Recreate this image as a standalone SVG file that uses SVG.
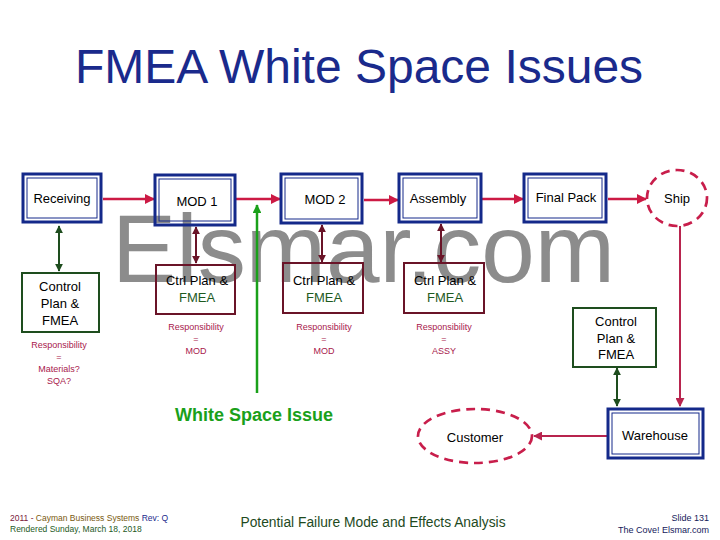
<svg xmlns="http://www.w3.org/2000/svg" width="720" height="540" viewBox="0 0 720 540">
<style>
text{font-family:"Liberation Sans",Arial,sans-serif}
.lbl{font-size:13px;fill:#000;text-anchor:middle}
.fm{fill:#1e5a1e}
.resp{font-size:9px;fill:#a8204c;text-anchor:middle}
.bo{fill:none;stroke:#14298a;stroke-width:3}
.bi{fill:none;stroke:#14298a;stroke-width:1}
.ctrl{fill:none;stroke:#6a1428;stroke-width:2}
.cp{fill:none;stroke:#1e4d1e;stroke-width:2}
.flow{stroke:#cc1a44;stroke-width:2.5;fill:none}
.flow2{stroke:#b8244e;stroke-width:2;fill:none}
.dm{stroke:#6a1428;stroke-width:2;fill:none}
.dg{stroke:#1e4d1e;stroke-width:2;fill:none}
.dash{fill:none;stroke:#c81e4b;stroke-width:2.7;stroke-dasharray:9 6}
</style>
<defs>
<marker id="ar" viewBox="0 0 10 10" refX="9" refY="5" markerWidth="4" markerHeight="4" orient="auto"><path d="M0,0L10,5L0,10z" fill="#cc1a44"/></marker>
<marker id="ar2" viewBox="0 0 10 10" refX="9" refY="5" markerWidth="4.5" markerHeight="4.5" orient="auto"><path d="M0,0L10,5L0,10z" fill="#b8244e"/></marker>
<marker id="am" viewBox="0 0 10 10" refX="9" refY="5" markerWidth="4" markerHeight="4" orient="auto-start-reverse"><path d="M0,0L10,5L0,10z" fill="#6a1428"/></marker>
<marker id="ag" viewBox="0 0 10 10" refX="9" refY="5" markerWidth="4" markerHeight="4" orient="auto-start-reverse"><path d="M0,0L10,5L0,10z" fill="#1e4d1e"/></marker>
<marker id="agr" viewBox="0 0 10 10" refX="9" refY="5" markerWidth="3.5" markerHeight="3.5" orient="auto"><path d="M0,0L10,5L0,10z" fill="#1aa01a"/></marker>
</defs>
<text x="359" y="83" font-size="48" fill="#1a2a8c" text-anchor="middle">FMEA White Space Issues</text>
<text x="112" y="282" font-size="96" fill="#8c8c8c" textLength="503" lengthAdjust="spacingAndGlyphs">Elsmar.com</text>
<g id="connectors">
<line class="flow" x1="103" y1="199" x2="154" y2="199" marker-end="url(#ar)"/>
<line class="flow" x1="236" y1="199" x2="280" y2="199" marker-end="url(#ar)"/>
<line class="flow" x1="364" y1="200" x2="398" y2="200" marker-end="url(#ar)"/>
<line class="flow" x1="482" y1="199" x2="523" y2="199" marker-end="url(#ar)"/>
<line class="flow" x1="608" y1="199" x2="646" y2="199" marker-end="url(#ar)"/>
<line class="flow2" x1="680" y1="226" x2="680" y2="406" marker-end="url(#ar2)"/>
<line class="flow2" x1="607" y1="436" x2="534" y2="436" marker-end="url(#ar2)"/>
<line class="dg" x1="59" y1="226" x2="59" y2="271" marker-start="url(#ag)" marker-end="url(#ag)"/>
<line class="dm" x1="196" y1="227" x2="196" y2="263" marker-start="url(#am)" marker-end="url(#am)"/>
<line class="dm" x1="322" y1="225" x2="322" y2="262" marker-start="url(#am)" marker-end="url(#am)"/>
<line class="dm" x1="441" y1="224" x2="441" y2="262" marker-start="url(#am)" marker-end="url(#am)"/>
<line class="dg" x1="617" y1="368" x2="617" y2="406" marker-start="url(#ag)" marker-end="url(#ag)"/>
<line x1="257" y1="393" x2="257" y2="205" stroke="#1aa01a" stroke-width="2.5" marker-end="url(#agr)"/>
</g>
<g id="receiving"><rect class="bo" x="23" y="174" width="78" height="48"/><rect class="bi" x="27" y="178" width="70" height="40"/><text class="lbl" x="62" y="203">Receiving</text></g>
<g id="mod1"><rect class="bo" x="155" y="175" width="80" height="50"/><rect class="bi" x="159" y="179" width="72" height="42"/><text class="lbl" x="197" y="206">MOD 1</text></g>
<g id="mod2"><rect class="bo" x="281" y="174" width="81" height="49"/><rect class="bi" x="285" y="178" width="73" height="41"/><text class="lbl" x="325" y="204">MOD 2</text></g>
<g id="assembly"><rect class="bo" x="399" y="174" width="82" height="48"/><rect class="bi" x="403" y="178" width="74" height="40"/><text class="lbl" x="438" y="203">Assembly</text></g>
<g id="finalpack"><rect class="bo" x="524" y="174" width="82" height="48"/><rect class="bi" x="528" y="178" width="74" height="40"/><text class="lbl" x="566" y="202">Final Pack</text></g>
<g id="ship"><ellipse class="dash" cx="677" cy="198" rx="30" ry="28"/><text class="lbl" x="677" y="203">Ship</text></g>
<g id="cp-left"><rect class="cp" x="22" y="273" width="77" height="59"/><text class="lbl" x="60" y="291">Control</text><text class="lbl" x="60" y="308">Plan &amp;</text><text class="lbl" x="60" y="325">FMEA</text>
<text class="resp" x="59" y="348">Responsibility</text><text class="resp" x="59" y="360">=</text><text class="resp" x="59" y="372">Materials?</text><text class="resp" x="59" y="384">SQA?</text></g>
<g id="ctrl-mod1"><rect class="ctrl" x="156" y="265" width="79" height="49"/><text class="lbl" x="197" y="285">Ctrl Plan &amp;</text><text class="lbl fm" x="197" y="302">FMEA</text>
<text class="resp" x="196" y="330">Responsibility</text><text class="resp" x="196" y="342">=</text><text class="resp" x="196" y="354">MOD</text></g>
<g id="ctrl-mod2"><rect class="ctrl" x="283" y="263" width="80" height="50"/><text class="lbl" x="324" y="285">Ctrl Plan &amp;</text><text class="lbl fm" x="324" y="302">FMEA</text>
<text class="resp" x="324" y="330">Responsibility</text><text class="resp" x="324" y="342">=</text><text class="resp" x="324" y="354">MOD</text></g>
<g id="ctrl-assy"><rect class="ctrl" x="404" y="263" width="80" height="50"/><text class="lbl" x="445" y="285">Ctrl Plan &amp;</text><text class="lbl fm" x="445" y="302">FMEA</text>
<text class="resp" x="444" y="330">Responsibility</text><text class="resp" x="444" y="342">=</text><text class="resp" x="444" y="354">ASSY</text></g>
<g id="cp-right"><rect class="cp" x="573" y="308" width="83" height="59"/><text class="lbl" x="616" y="326">Control</text><text class="lbl" x="616" y="343">Plan &amp;</text><text class="lbl" x="616" y="359">FMEA</text></g>
<g id="warehouse"><rect class="bo" x="608" y="409" width="95" height="49"/><rect class="bi" x="612" y="413" width="87" height="41"/><text class="lbl" x="655" y="440">Warehouse</text></g>
<g id="customer"><ellipse class="dash" cx="475" cy="436" rx="57" ry="27"/><text class="lbl" x="475" y="442">Customer</text></g>
<text x="254" y="421" font-size="18" font-weight="bold" fill="#1aa01a" text-anchor="middle">White Space Issue</text>
<text x="10" y="521" font-size="8.5" fill="#7a1a3a">2011 - <tspan fill="#7a5a10">Cayman Business Systems</tspan> <tspan fill="#1a2a8c">Rev: Q</tspan></text>
<text x="10" y="532" font-size="8.5" fill="#1e5a1e">Rendered Sunday, March 18, 2018</text>
<text x="373" y="527" font-size="13.8" fill="#1e4a1e" text-anchor="middle">Potential Failure Mode and Effects Analysis</text>
<text x="709" y="521" font-size="9" fill="#14205a" text-anchor="end">Slide 131</text>
<text x="709" y="533" font-size="9" fill="#14205a" text-anchor="end">The Cove!  Elsmar.com</text>
</svg>
